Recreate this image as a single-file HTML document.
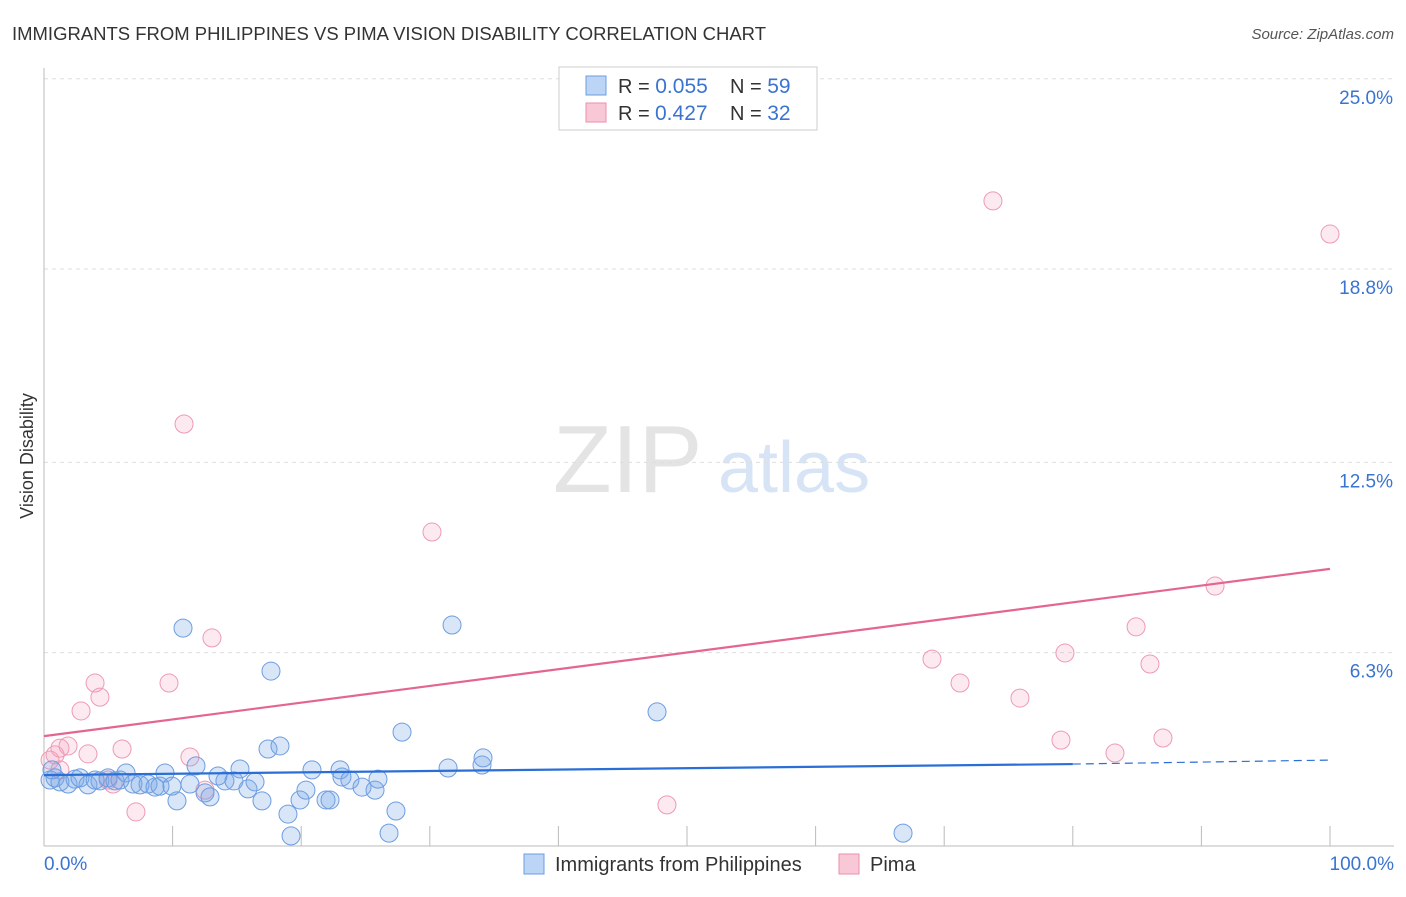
<!DOCTYPE html>
<html><head><meta charset="utf-8"><style>
body{margin:0;background:#fff;font-family:"Liberation Sans",sans-serif;}
svg text{font-family:"Liberation Sans",sans-serif;}
</style></head><body>
<svg width="1406" height="892" viewBox="0 0 1406 892" xmlns="http://www.w3.org/2000/svg">
<text x="12" y="40" font-size="18" fill="#333" textLength="754" lengthAdjust="spacingAndGlyphs">IMMIGRANTS FROM PHILIPPINES VS PIMA VISION DISABILITY CORRELATION CHART</text>
<text x="1394" y="39" font-size="15" fill="#555" font-style="italic" text-anchor="end">Source: ZipAtlas.com</text>
<text x="553" y="492" font-size="96" fill="#e4e4e4" font-family="Liberation Serif">ZIP</text>
<text x="718" y="492" font-size="72" fill="#d6e4f5">atlas</text>
<g id="grid"></g>
<line x1="44" y1="68" x2="44" y2="846" stroke="#bbb"/>
<line x1="44" y1="846" x2="1394" y2="846" stroke="#bbb"/>
<text x="33" y="456" font-size="18" fill="#333" text-anchor="middle" transform="rotate(-90 33 456)">Vision Disability</text>
<text x="44" y="870" font-size="19" fill="#3a74d0">0.0%</text>
<text x="1394" y="870" font-size="19" fill="#3a74d0" text-anchor="end">100.0%</text>
<g id="marks"></g>
<g>
<rect x="559" y="67" width="258" height="63" fill="#fff" stroke="#ccc"/>
<rect x="586" y="76" width="20" height="19" fill="#bcd4f5" stroke="#6d9de0"/>
<rect x="586" y="103" width="20" height="19" fill="#f9c8d7" stroke="#eb8fab"/>
<text x="618" y="93" font-size="20" fill="#333">R = <tspan fill="#3a74d0" font-size="21">0.055</tspan><tspan x="730">N = </tspan><tspan fill="#3a74d0" font-size="21">59</tspan></text>
<text x="618" y="120" font-size="20" fill="#333">R = <tspan fill="#3a74d0" x="655" font-size="21">0.427</tspan><tspan x="730">N = </tspan><tspan fill="#3a74d0" font-size="21">32</tspan></text>
</g>
<g>
<rect x="524" y="854" width="20" height="20" fill="#bcd4f5" stroke="#6d9de0"/>
<text x="555" y="871" font-size="20" fill="#333">Immigrants from Philippines</text>
<rect x="839" y="854" width="20" height="20" fill="#f9c8d7" stroke="#eb8fab"/>
<text x="870" y="871" font-size="20" fill="#333">Pima</text>
</g>
</svg>
<script>
const yTicks=[25.0,18.8,12.5,6.3];
const yTickLabels=["25.0%","18.8%","12.5%","6.3%"];
const xTicks=[10,20,30,40,50,60,70,80,90,100];
const blueX=[0.47,0.86,1.24,1.87,2.41,2.80,3.42,3.97,4.35,4.98,5.52,5.91,6.38,6.92,7.47,8.09,8.63,9.02,9.41,9.95,10.34,10.81,11.35,11.82,12.52,12.91,13.53,14.07,14.77,15.24,15.86,16.41,16.95,17.42,17.65,18.35,18.97,19.21,19.91,20.37,20.84,21.93,22.24,23.02,23.17,23.79,24.73,25.74,25.97,26.83,27.37,27.84,31.42,31.73,34.06,34.14,47.67,66.80,0.62];
const blueY=[2.15,2.22,2.09,2.02,2.18,2.22,1.99,2.15,2.12,2.22,2.12,2.15,2.38,2.02,1.99,2.02,1.92,1.95,2.38,1.95,1.47,7.10,2.02,2.61,1.73,1.60,2.28,2.12,2.12,2.51,1.86,2.09,1.47,3.16,5.70,3.26,1.04,0.33,1.50,1.82,2.48,1.50,1.50,2.48,2.25,2.15,1.92,1.82,2.18,0.42,1.14,3.71,2.54,7.20,2.64,2.87,4.37,0.42,2.48];
const pinkX=[0.47,0.86,1.24,1.87,2.88,3.42,3.97,4.35,4.98,5.37,6.07,7.15,9.72,10.89,11.35,12.52,13.06,30.17,48.44,69.05,71.23,73.79,75.89,79.08,79.39,83.28,84.92,86.00,87.01,91.06,100,1.24];
const pinkY=[2.80,2.97,3.19,3.26,4.40,3.00,5.31,4.85,2.15,2.02,3.16,1.11,5.31,13.75,2.90,1.82,6.78,10.23,1.34,6.09,5.31,21.02,4.82,3.45,6.29,3.03,7.14,5.93,3.52,8.47,19.94,2.48];
const blueTrend=[2.31,2.67,2.80];
const pinkTrend=[3.58,9.03];
const NS="http://www.w3.org/2000/svg";
const X=v=>44+v*12.86, Y=v=>846-v*30.69;
const grid=document.getElementById('grid'), marks=document.getElementById('marks');
function mk(tag,attrs,parent){const e=document.createElementNS(NS,tag);for(const k in attrs)e.setAttribute(k,attrs[k]);parent.appendChild(e);return e;}
yTicks.forEach((t,i)=>{
  const l=mk('line',{x1:44,x2:1394,y1:Y(t),y2:Y(t),stroke:'#ddd','stroke-dasharray':'4,4'},grid);
  
  
  const tx=mk('text',{x:1393,y:Y(t)+25,'font-size':19,fill:'#3a74d0','text-anchor':'end'},grid);
  tx.textContent=yTickLabels[i];
  
  
});
xTicks.forEach(t=>{
  const l=mk('line',{x1:X(t),x2:X(t),y1:826,y2:846,stroke:'#bbb'},grid);
  
  
});
pinkX.forEach((x,i)=>{
  const c=mk('circle',{cx:X(x),cy:Y(pinkY[i]),r:9,fill:'rgba(244,160,186,0.22)',stroke:'#ee9ab4','stroke-width':1},marks);
  
  
});
blueX.forEach((x,i)=>{
  const c=mk('circle',{cx:X(x),cy:Y(blueY[i]),r:9,fill:'rgba(120,165,230,0.28)',stroke:'#6d9de0','stroke-width':1},marks);
  
  
});
let l=mk('line',{x1:X(0),y1:Y(pinkTrend[0]),x2:X(100),y2:Y(pinkTrend[1]),stroke:'#e4668f','stroke-width':2.2},marks);


l=mk('line',{x1:X(0),y1:Y(blueTrend[0]),x2:X(80),y2:Y(blueTrend[1]),stroke:'#2b6fd6','stroke-width':2.2},marks);


l=mk('line',{x1:X(80),y1:Y(blueTrend[1]),x2:X(100),y2:Y(blueTrend[2]),stroke:'#2b6fd6','stroke-width':1.2,'stroke-dasharray':'8,5'},marks);


</script>
</body></html>
